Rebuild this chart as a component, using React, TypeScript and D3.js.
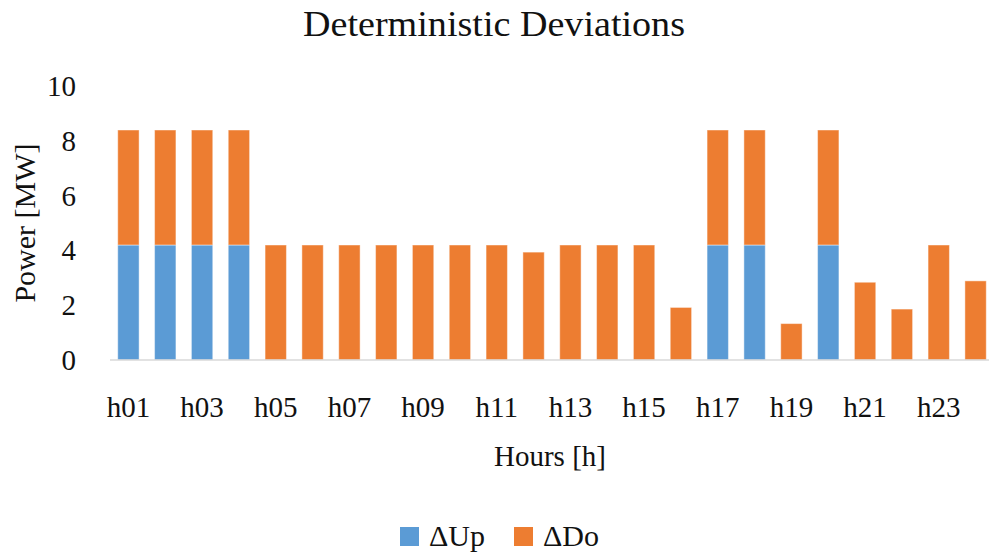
import React from "react";
import * as d3 from "d3";

const hours = [
  "h01", "h02", "h03", "h04", "h05", "h06", "h07", "h08", "h09", "h10", "h11", "h12",
  "h13", "h14", "h15", "h16", "h17", "h18", "h19", "h20", "h21", "h22", "h23", "h24",
];
const deltaUp = [4.2, 4.2, 4.2, 4.2, 0, 0, 0, 0, 0, 0, 0, 0, 0, 0, 0, 0, 4.2, 4.2, 0, 4.2, 0, 0, 0, 0];
const deltaDo = [
  4.2, 4.2, 4.2, 4.2, 4.2, 4.2, 4.2, 4.2, 4.2, 4.2, 4.2, 3.94,
  4.2, 4.2, 4.2, 1.92, 4.2, 4.2, 1.33, 4.2, 2.84, 1.86, 4.2, 2.89,
];
const yTicks = [0, 2, 4, 6, 8, 10];
const seriesNames = ["ΔUp", "ΔDo"];
const seriesColors = ["#5B9BD5", "#ED7D31"];

const W = 989;
const H = 552;
const textStyle = { fontFamily: "Liberation Serif" };

export default function App() {
  const x = d3
    .scaleBand<string>()
    .domain(hours)
    .range([110, 994])
    .paddingInner(0.42)
    .paddingOuter(0.21);
  const y = d3.scaleLinear().domain([0, 10]).range([360, 86.2]);

  const rows = hours.map((h, i) => ({ hour: h, up: deltaUp[i], down: deltaDo[i] }));
  const stacked = d3.stack<any>().keys(["up", "down"])(rows);

  return (
    <svg width={W} height={H} style={{ position: "absolute", left: 0, top: 0, background: "#fff" }}>
      <rect x={0} y={0} width={W} height={H} fill="#fff" />
      <text
        x={494}
        y={36}
        textAnchor="middle"
        fontSize={35}
        fill="#111"
        style={textStyle}
        textLength={382}
        lengthAdjust="spacingAndGlyphs"
      >
        Deterministic Deviations
      </text>

      {/* value axis labels */}
      {yTicks.map((t) => (
        <text key={t} x={76} y={y(t)} dy="0.34em" textAnchor="end" fontSize={29} fill="#111" style={textStyle}>
          {t}
        </text>
      ))}
      <text
        transform={`translate(35, 223) rotate(-90)`}
        textAnchor="middle"
        fontSize={30}
        fill="#111"
        style={textStyle}
      >
        Power [MW]
      </text>

      {/* stacked bars */}
      {stacked.map((layer, si) =>
        layer.map((d, i) => {
          const h = y(d[0]) - y(d[1]);
          if (h <= 0) return null;
          return (
            <rect
              key={`${si}-${i}`}
              x={x(hours[i])}
              y={y(d[1])}
              width={x.bandwidth()}
              height={h}
              fill={seriesColors[si]}
              stroke="#fff"
              strokeOpacity={0.45}
              strokeWidth={1}
            />
          );
        })
      )}

      {/* category axis */}
      <line x1={110} x2={W} y1={360} y2={360} stroke="#D9D9D9" strokeWidth={1.5} />
      {hours.map((h, i) =>
        i % 2 === 0 ? (
          <text
            key={h}
            x={(x(h) as number) + x.bandwidth() / 2}
            y={417}
            textAnchor="middle"
            fontSize={29}
            fill="#111"
            style={textStyle}
          >
            {h}
          </text>
        ) : null
      )}
      <text x={550} y={466} textAnchor="middle" fontSize={29} fill="#111" style={textStyle}>
        Hours [h]
      </text>

      {/* legend */}
      {seriesNames.map((name, i) => {
        const lx = [400, 514][i];
        return (
          <g key={name}>
            <rect x={lx} y={527} width={19} height={19} fill={seriesColors[i]} />
            <text x={lx + 29} y={545.5} fontSize={30} fill="#111" style={textStyle}>
              {name}
            </text>
          </g>
        );
      })}
    </svg>
  );
}
